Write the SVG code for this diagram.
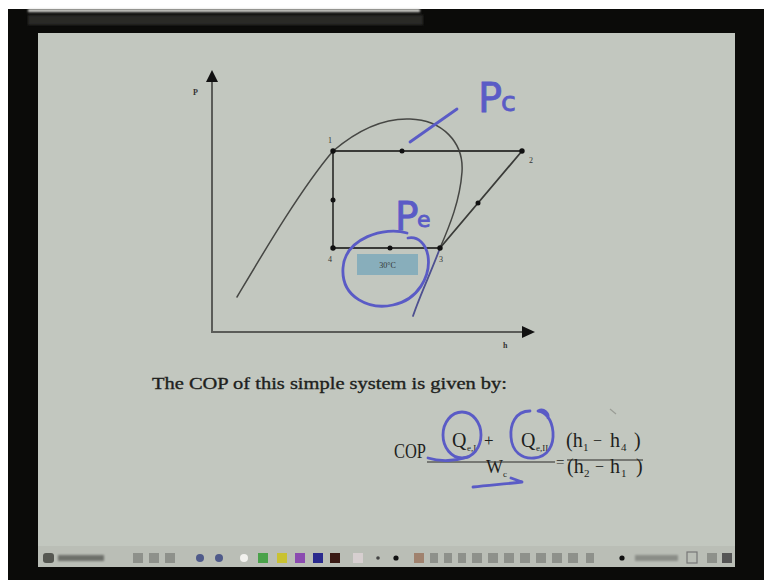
<svg xmlns="http://www.w3.org/2000/svg" width="764" height="580" viewBox="0 0 764 580">
<defs>
<style>
.ink{fill:none;stroke:#3a3b38;stroke-width:1.8;stroke-linecap:round;stroke-linejoin:round}
.axis{fill:none;stroke:#5a5c58;stroke-width:2}
.pen{fill:none;stroke:#5a5bc6;stroke-width:2.8;stroke-linecap:round;stroke-linejoin:round}
.lbl{font-family:"Liberation Serif",serif;font-size:8px;fill:#333}
.txt{font-family:"Liberation Serif",serif;fill:#1e1f1d}
.hand{font-family:"DejaVu Sans",sans-serif;fill:#5a5bc6;stroke:#5a5bc6;stroke-width:0.8}
.dot{fill:#111}
.tb{fill:#8e918b}
</style>
<filter id="bl" x="-10%" y="-50%" width="120%" height="200%"><feGaussianBlur stdDeviation="1.2"/></filter>
</defs>
<rect width="764" height="580" fill="#0b0b09"/>
<rect width="764" height="9" fill="#ffffff"/>
<rect width="8" height="580" fill="#ffffff"/>
<g id="title-remnant" filter="url(#bl)">
<rect x="28" y="9" width="392" height="3" fill="#d8d8d4"/>
<rect x="28" y="15" width="395" height="10" fill="#2a2a27"/>
</g>
<rect id="slide" x="38" y="33" width="697" height="534" fill="#c2c7bf"/>
<g id="axes">
<line class="axis" x1="212" y1="80" x2="212" y2="332"/>
<line class="axis" x1="211" y1="332" x2="524" y2="332"/>
<polygon points="212,70 206,82 218,82" fill="#111"/>
<polygon points="535,332 522,326 522,338" fill="#111"/>
<text class="lbl" x="193" y="95" font-weight="bold">P</text>
<text class="lbl" x="503" y="348" font-weight="bold">h</text>
</g>
<g id="dome">
<path fill="none" stroke="#464744" stroke-width="1.5" stroke-linecap="round" d="M237,297 C262,255 300,190 333,151 C360,128 385,118 410,119 C442,120 464,142 462,172 C460,200 450,225 440,248"/>
<path fill="none" stroke="#4e5090" stroke-width="1.8" stroke-linecap="round" d="M440,248 C432,270 420,295 413,316"/>
</g>
<g id="connectors">
<path class="ink" d="M333,151 L522,151 L440,248 L333,248 Z"/>
</g>
<g id="state-1"><circle class="dot" cx="333" cy="151" r="2.7"/><text class="lbl" x="328" y="143">1</text></g>
<g id="state-2"><circle class="dot" cx="522" cy="151" r="2.7"/><text class="lbl" x="529" y="163">2</text></g>
<g id="state-3"><circle class="dot" cx="440" cy="248" r="2.7"/><text class="lbl" x="439" y="262">3</text></g>
<g id="state-4"><circle class="dot" cx="333" cy="248" r="2.7"/><text class="lbl" x="328" y="262">4</text></g>
<g id="mid-dots">
<circle class="dot" cx="402" cy="151" r="2.5"/>
<circle class="dot" cx="333" cy="200" r="2.5"/>
<circle class="dot" cx="390" cy="248" r="2.5"/>
<circle class="dot" cx="478" cy="203" r="2.5"/>
</g>
<g id="temp-box">
<rect x="357" y="254" width="61" height="21" fill="#88aebb"/>
<text class="lbl" x="387.5" y="268" text-anchor="middle" fill="#2b3b42">30°C</text>
</g>
<g id="annotations">
<line class="pen" x1="410" y1="142" x2="457" y2="109"/>
<text class="hand" x="478" y="112" font-size="40">P</text>
<text class="hand" x="501" y="111" font-size="27">c</text>
<text class="hand" x="395" y="230" font-size="39">P</text>
<text class="hand" x="417" y="227" font-size="22">e</text>
<path class="pen" d="M407,233 C385,226 345,238 343,268 C341,298 370,310 393,305 C418,300 431,276 428,256 C426,244 418,236 408,238"/>
</g>
<text class="txt" x="152" y="389" font-size="17" textLength="355" lengthAdjust="spacingAndGlyphs" stroke="#1e1f1d" stroke-width="0.35">The COP of this simple system is given by:</text>
<g id="formula" class="txt">
<text x="394" y="458" font-size="20" textLength="32" lengthAdjust="spacingAndGlyphs">COP</text>
<line x1="427" y1="462" x2="555" y2="462" stroke="#2a2b28" stroke-width="1.2"/>
<text x="452" y="447" font-size="20">Q</text>
<text x="467" y="451" font-size="9">e,I</text>
<text x="484" y="446" font-size="17">+</text>
<text x="521" y="447" font-size="20">Q</text>
<text x="536" y="451" font-size="9">e,II</text>
<text x="486" y="473" font-size="18">W</text>
<text x="503" y="477" font-size="9">c</text>
<text x="556" y="467" font-size="15">=</text>
<line x1="567" y1="460" x2="643" y2="460" stroke="#2a2b28" stroke-width="1.2"/>
<text x="566" y="447" font-size="20">(h</text>
<text x="583" y="451" font-size="11">1</text>
<text x="593" y="446" font-size="16">−</text>
<text x="610" y="447" font-size="20">h</text>
<text x="621" y="451" font-size="11">4</text>
<text x="634" y="447" font-size="20">)</text>
<text x="567" y="473" font-size="20">(h</text>
<text x="584" y="477" font-size="11">2</text>
<text x="595" y="472" font-size="16">−</text>
<text x="610" y="473" font-size="20">h</text>
<text x="621" y="477" font-size="11">1</text>
<text x="636" y="473" font-size="20">)</text>
</g>
<g id="formula-marks">
<ellipse class="pen" cx="462" cy="435" rx="19" ry="23"/>
<path class="pen" d="M428,458 C440,462 456,461 468,457"/>
<path class="pen" d="M530,411 C515,411 510,425 511,437 C512,452 522,459 534,458 C548,457 554,445 553,432 C552,420 546,412 538,411 C544,408 549,413 548,418"/>
<path class="pen" d="M473,487 C490,485 506,484 522,482 M511,478 L522,482"/>
<path d="M610,409 L616,414" stroke="#9a9d96" stroke-width="1.2"/>
</g>
<g id="toolbar">
<rect x="38" y="546" width="697" height="21" fill="#babeb6"/>
<rect x="43" y="553" width="11" height="10" rx="3" fill="#565852"/>
<rect x="58" y="555" width="46" height="6" fill="#6d706a" filter="url(#bl)"/>
<rect x="133" y="553" width="10" height="10" class="tb"/>
<rect x="149" y="553" width="10" height="10" class="tb"/>
<rect x="165" y="553" width="10" height="10" class="tb"/>
<circle cx="200" cy="558" r="4" fill="#4f5a8a"/>
<circle cx="219" cy="558" r="4" fill="#4f5a8a"/>
<circle cx="244" cy="558" r="4" fill="#f2f2ee"/>
<rect x="258" y="553" width="10" height="10" fill="#4aa24a"/>
<rect x="277" y="553" width="10" height="10" fill="#c9c232"/>
<rect x="295" y="553" width="10" height="10" fill="#8b4bb0"/>
<rect x="313" y="553" width="10" height="10" fill="#2a2a8e"/>
<rect x="330" y="553" width="10" height="10" fill="#3a1a14"/>
<rect x="353" y="553" width="10" height="10" fill="#d7cfd0"/>
<circle cx="378" cy="558" r="1.8" fill="#444"/>
<circle cx="396" cy="558" r="2.6" fill="#111"/>
<g class="tb">
<rect x="414" y="553" width="10" height="10" fill="#a0826e"/>
<rect x="430" y="553" width="8" height="10"/>
<rect x="444" y="553" width="8" height="10"/>
<rect x="458" y="553" width="8" height="10"/>
<rect x="472" y="553" width="10" height="10"/>
<rect x="488" y="553" width="10" height="10"/>
<rect x="504" y="553" width="10" height="10"/>
<rect x="520" y="553" width="10" height="10"/>
<rect x="536" y="553" width="10" height="10"/>
<rect x="552" y="553" width="10" height="10"/>
<rect x="568" y="553" width="10" height="10"/>
<rect x="586" y="553" width="8" height="10"/>
</g>
<circle cx="622" cy="558" r="2.6" fill="#111"/>
<rect x="635" y="555" width="43" height="6" fill="#8a8d87" filter="url(#bl)"/>
<rect x="687" y="552" width="10" height="11" fill="none" stroke="#777" stroke-width="1.2"/>
<rect x="707" y="553" width="10" height="10" class="tb"/>
<rect x="722" y="553" width="10" height="10" fill="#555"/>
</g>
</svg>
